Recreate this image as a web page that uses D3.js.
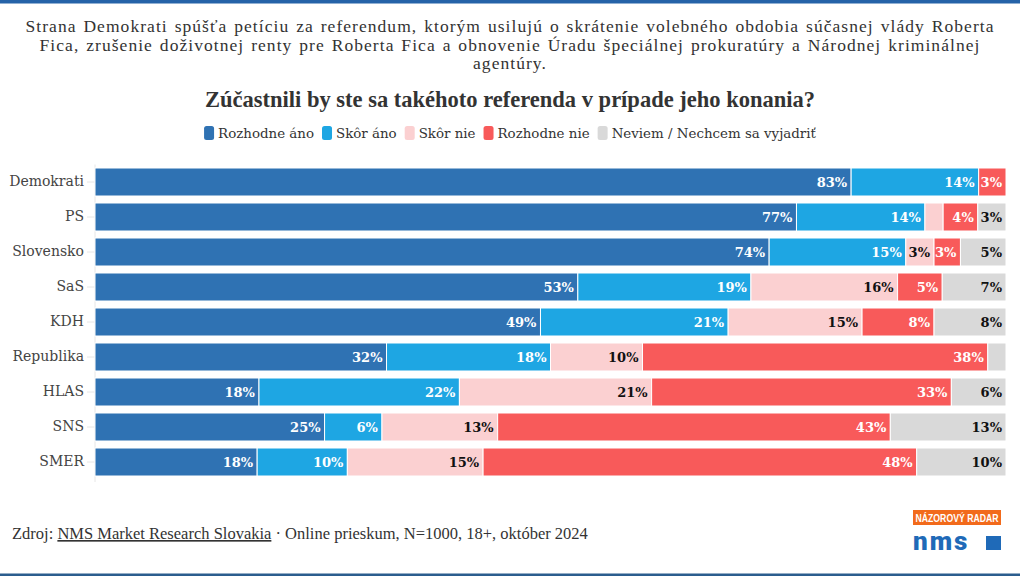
<!DOCTYPE html>
<html><head><meta charset="utf-8">
<script src="https://cdn.jsdelivr.net/npm/d3@7"></script>
<style>
html,body{margin:0;padding:0;background:#fff;}
svg{display:block;}
</style></head>
<body>
<script>
const categories = ["Demokrati","PS","Slovensko","SaS","KDH","Republika","HLAS","SNS","SMER"];
const seriesNames = ["Rozhodne áno","Skôr áno","Skôr nie","Rozhodne nie","Neviem / Nechcem sa vyjadriť"];
const rozhodneAno = [83, 77, 74, 53, 48.9, 32, 18, 25.2, 17.8];
const skorAno     = [14, 14.1, 15, 19, 20.6, 18, 22, 6.3, 9.9];
const skorNie     = [0, 2, 3.1, 16.1, 14.7, 10.1, 21.1, 12.7, 14.9];
const rozhodneNie = [3, 3.8, 2.9, 4.9, 7.9, 37.9, 32.9, 43.1, 47.6];
const neviem      = [0, 3.1, 5, 7, 7.9, 2, 6, 12.7, 9.8];
const colors = ["#2f72b3","#1ea6e3","#fbd0d1","#f85a5a","#d9d9d9"];
const labelColors = ["#fff","#fff","#111","#fff","#111"];
const subtitleLines = [
 "Strana Demokrati spúšťa petíciu za referendum, ktorým usilujú o skrátenie volebného obdobia súčasnej vlády Roberta",
 "Fica, zrušenie doživotnej renty pre Roberta Fica a obnovenie Úradu špeciálnej prokuratúry a Národnej kriminálnej",
 "agentúry."
];
const heading = "Zúčastnili by ste sa takéhoto referenda v prípade jeho konania?";

const W = 1020, H = 576;
const svg = d3.select("body").append("svg").attr("width", W).attr("height", H);

// top and bottom stripes
svg.append("rect").attr("x",0).attr("y",0).attr("width",W).attr("height",3.5).attr("fill","#2563a8");
svg.append("rect").attr("x",0).attr("y",573.5).attr("width",W).attr("height",2.5).attr("fill","#2b5d8e");

// subtitle
const serif = "'Liberation Serif', serif";
svg.append("g").selectAll("text").data(subtitleLines).join("text")
  .attr("x", W/2).attr("y", (d,i) => 32 + i*18.5)
  .attr("text-anchor","middle")
  .style("font-family", serif).style("font-size","17.5px")
  .style("letter-spacing","1.05px").style("word-spacing","1.5px")
  .attr("fill","#333")
  .text(d => d);

svg.append("text").attr("x", W/2).attr("y", 107).attr("text-anchor","middle")
  .style("font-family", serif).style("font-size","22.5px").style("font-weight","bold").attr("fill","#333")
  .text(heading);

// legend
const legendFont = "'DejaVu Serif', serif";
const legend = svg.append("g");
let lx = 0;
const items = [];
seriesNames.forEach((n,i) => {
  const g = legend.append("g");
  g.append("rect").attr("x",0).attr("y",-7).attr("width",10).attr("height",14).attr("rx",2.5).attr("fill",colors[i]);
  const t = g.append("text").attr("x",14).attr("y",5).style("font-family",legendFont).style("font-size","13.4px")
    .attr("fill","#333").text(n);
  items.push({g, w: 14 + t.node().getComputedTextLength()});
});
const gapL = 8;
const totalL = d3.sum(items, d=>d.w) + gapL*(items.length-1);
lx = W/2 - totalL/2;
items.forEach(it => { it.g.attr("transform", `translate(${lx},133)`); lx += it.w + gapL; });

// scales
const x = d3.scaleLinear().domain([0,100]).range([95, 1006]);
const y = d3.scaleBand().domain(categories).range([164.5, 479.5]).paddingInner(0.2).paddingOuter(0.1);

const seriesArrays = [rozhodneAno, skorAno, skorNie, rozhodneNie, neviem];
const rows = categories.map((c,i) => {
  const o = {cat:c};
  seriesNames.forEach((s,j) => o[s] = seriesArrays[j][i]);
  return o;
});
const stacked = d3.stack().keys(seriesNames)(rows);

// axis
const yAxis = svg.append("g").attr("transform","translate(95,0)")
  .call(d3.axisLeft(y).tickSize(8).tickPadding(3));
yAxis.select(".domain").attr("stroke","#e6e6e6");
yAxis.selectAll(".tick line").attr("stroke","#e6e6e6");
yAxis.selectAll(".tick text").style("font-family",legendFont).style("font-size","14px").attr("fill","#444");
yAxis.select(".domain").attr("d", `M0,164.5V482`);

// bars
const fmt = v => Math.round(v) + "%";
stacked.forEach((layer,j) => {
  const g = svg.append("g");
  g.selectAll("rect").data(layer).join("rect")
    .attr("x", d => x(d[0]))
    .attr("y", d => y(d.data.cat))
    .attr("width", d => Math.max(0, x(d[1]) - x(d[0])))
    .attr("height", y.bandwidth())
    .attr("fill", colors[j])
    .attr("stroke", "#fff").attr("stroke-width", 1);
  g.selectAll("text").data(layer.filter(d => d[1]-d[0] >= 2.5)).join("text")
    .attr("x", d => x(d[1]) - 4)
    .attr("y", d => y(d.data.cat) + y.bandwidth()/2 + 5)
    .attr("text-anchor","end")
    .style("font-family",legendFont).style("font-size","13px").style("font-weight","bold")
    .attr("fill", labelColors[j])
    .text(d => fmt(d[1]-d[0]));
});

// footer
const foot = svg.append("text").attr("x",12).attr("y",539)
  .style("font-family",serif).style("font-size","16.5px").attr("fill","#333");
foot.append("tspan").text("Zdroj: ");
foot.append("tspan").attr("text-decoration","underline").text("NMS Market Research Slovakia");
foot.append("tspan").text(" · Online prieskum, N=1000, 18+, október 2024");

// logo
const logo = svg.append("g");
logo.append("rect").attr("x",913).attr("y",510).attr("width",88).attr("height",15).attr("fill","#f26a1b");
logo.append("text").attr("x",915.5).attr("y",521.5)
  .attr("textLength", 83).attr("lengthAdjust","spacingAndGlyphs")
  .style("font-family","'Liberation Sans',sans-serif").style("font-size","10.5px").style("font-weight","bold")
  .attr("fill","#fff").text("NÁZOROVÝ RADAR");
logo.append("text").attr("x",913).attr("y",550)
  .style("font-family","Roboto, sans-serif").style("font-size","26px").style("font-weight","900")
  .style("letter-spacing","2px")
  .attr("fill","#1f6ab8").text("nms");
logo.append("rect").attr("x",986).attr("y",536).attr("width",15).attr("height",14).attr("fill","#1f6ab8");
</script>
</body></html>
